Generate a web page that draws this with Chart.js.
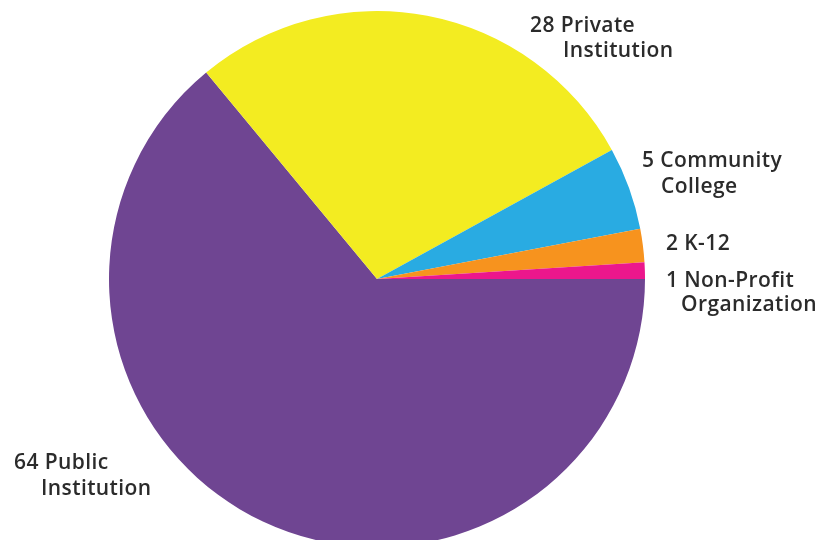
<!DOCTYPE html>
<html>
<head>
<meta charset="utf-8">
<script src="https://cdn.jsdelivr.net/npm/chart.js@4"></script>
<style>
  html, body { margin: 0; padding: 0; background: #fff; }
  #wrap { width: 820px; height: 540px; position: relative; }
</style>
</head>
<body>
<div id="wrap"><canvas id="pieChart" width="820" height="540"></canvas></div>
<script>
// data, clockwise starting at 3 o'clock
const categories = ['Public Institution', 'Private Institution', 'Community College', 'K-12', 'Non-Profit Organization'];
const counts = [64, 28, 5, 2, 1];
const sliceColors = ['#6f4592', '#f3ec21', '#29abe2', '#f7931e', '#ec178c'];

// label lines drawn outside the pie (text only)
const labelLines = [
    [['64 Public', 14, 469], ['Institution', 41, 495]],
    [['28 Private', 530, 32], ['Institution', 563, 57]],
    [['5 Community', 642, 167], ['College', 661, 193]],
    [['2 K-12', 666, 250]],
    [['1 Non-Profit', 666, 287], ['Organization', 681, 311]]
];

const outsideLabels = {
    id: 'outsideLabels',
    afterDraw(chart) {
        const ctx = chart.ctx;
        ctx.save();
        ctx.fillStyle = '#2b2b2b';
        ctx.font = '600 21px "Open Sans", sans-serif';
        ctx.letterSpacing = '0.4px';
        ctx.textBaseline = 'alphabetic';
        ctx.textAlign = 'left';
        labelLines.forEach(lines => {
            lines.forEach(l => ctx.fillText(l[0], l[1], l[2]));
        });
        ctx.restore();
    }
};

new Chart(document.getElementById('pieChart').getContext('2d'), {
    type: 'pie',
    data: {
        labels: categories,
        datasets: [{
            data: counts,
            backgroundColor: sliceColors,
            borderWidth: 0
        }]
    },
    options: {
        responsive: false,
        animation: false,
        rotation: 90,
        radius: 268,
        layout: { padding: { top: 18, right: 66, bottom: 0, left: 0 } },
        plugins: {
            legend: { display: false },
            tooltip: { enabled: false }
        }
    },
    plugins: [outsideLabels]
});
</script>
</body>
</html>
